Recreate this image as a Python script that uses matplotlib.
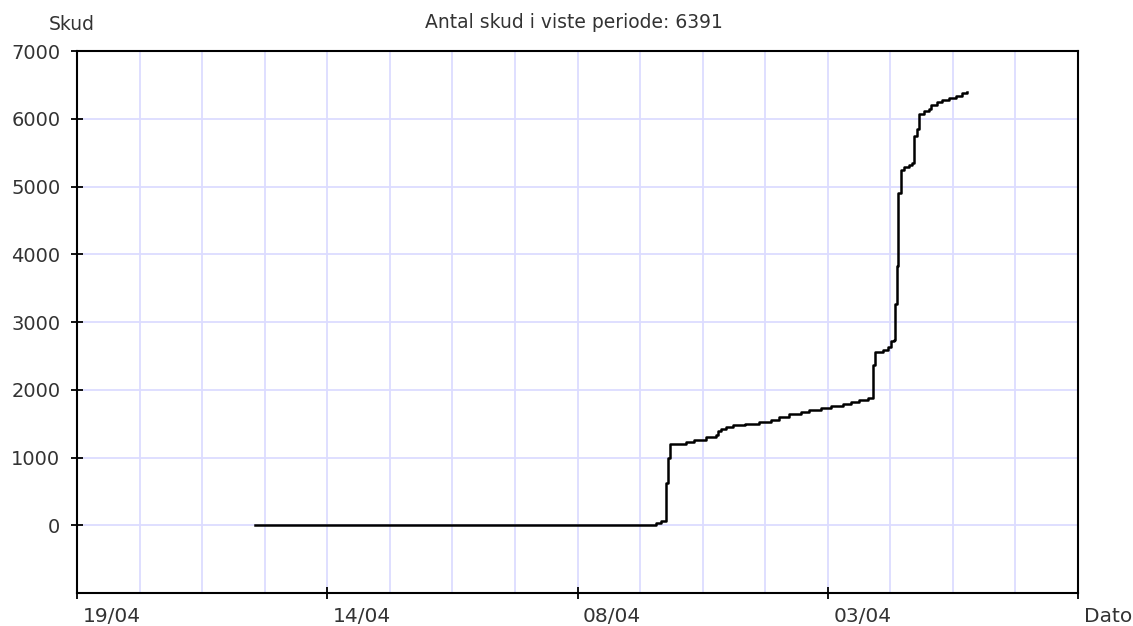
import numpy as np
import matplotlib
matplotlib.use('Agg')
import matplotlib.pyplot as plt
import matplotlib.transforms as mtrans

# cumulative shots, x in grid units (one unit = one vertical gridline)
x_pos = [2.85, 9.25, 9.33, 9.41, 9.44, 9.48, 9.73, 9.86, 10.06, 10.21,
         10.24, 10.29, 10.37, 10.48, 10.67, 10.90, 11.09, 11.22, 11.38, 11.57,
         11.70, 11.89, 12.05, 12.24, 12.37, 12.50, 12.64, 12.72, 12.76, 12.88,
         12.96, 13.01, 13.06, 13.08, 13.10, 13.13, 13.17, 13.22, 13.30, 13.34,
         13.38, 13.42, 13.46, 13.54, 13.62, 13.65, 13.75, 13.83, 13.93, 14.05,
         14.15, 14.23]
skud = [0, 30, 60, 620, 1000, 1200, 1225, 1260, 1300, 1325,
        1385, 1425, 1450, 1475, 1500, 1530, 1560, 1600, 1640, 1670,
        1695, 1730, 1755, 1785, 1820, 1845, 1885, 2360, 2555, 2590,
        2630, 2720, 2730, 3270, 3830, 4900, 5245, 5285, 5320, 5350,
        5752, 5850, 6072, 6110, 6145, 6210, 6245, 6270, 6300, 6340,
        6375, 6391]

tick_pos = [0, 4, 8, 12, 16]
tick_lbl = ['19/04', '14/04', '08/04', '03/04', 'Dato']
yticks = [0, 1000, 2000, 3000, 4000, 5000, 6000, 7000]

txt = '#333333'
grid_c = '#dcdcff'

fig = plt.figure(figsize=(11.33, 6.26), dpi=100)
ax = fig.add_axes([0.068, 0.0527, 0.8835, 0.8658])

for gx in range(1, 16):
    ax.axvline(gx, color=grid_c, lw=1.3, zorder=0)
for gy in yticks[:-1]:
    ax.axhline(gy, color=grid_c, lw=1.3, zorder=0)

ax.plot(x_pos, skud, drawstyle='steps-post', color='black', lw=1.8, zorder=3)

ax.set_xlim(0, 16)
ax.set_ylim(-1000, 7000)
ax.set_yticks(yticks)
ax.set_yticklabels([str(v) for v in yticks])
ax.set_xticks(tick_pos)
ax.set_xticklabels(tick_lbl)

for s in ax.spines.values():
    s.set_color('black')
    s.set_linewidth(1.5)

ax.tick_params(axis='y', direction='inout', length=8, width=1.3, pad=8,
               labelsize=14, labelcolor=txt)
ax.tick_params(axis='x', direction='inout', length=8, width=1.3, pad=6,
               labelsize=14.5, labelcolor=txt)

offset = mtrans.ScaledTranslation(4 / 72, 0, fig.dpi_scale_trans)
for lab in ax.get_xticklabels():
    lab.set_horizontalalignment('left')
    lab.set_transform(lab.get_transform() + offset)

fig.text(72 / 1133, 1 - 24 / 626, 'Skud', ha='center', va='center',
         fontsize=13.5, color=txt)
fig.text(574 / 1133, 1 - 23 / 626, 'Antal skud i viste periode: 6391',
         ha='center', va='center', fontsize=13.5, color=txt)

fig.savefig('out.png', dpi=100)
